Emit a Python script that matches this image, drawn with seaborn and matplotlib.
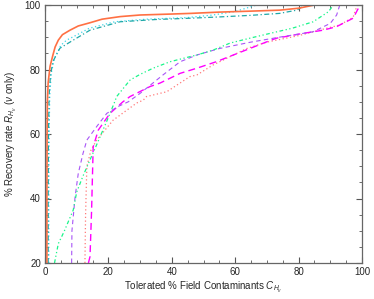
import numpy as np
import pandas as pd
import matplotlib
matplotlib.use('Agg')
import matplotlib.pyplot as plt
from matplotlib.ticker import MultipleLocator
import seaborn as sns

# curves: tolerated contaminants (x) vs recovery rate (y)
orange_x = [0.6, 0.6, 0.65, 0.75, 1.0, 1.6, 2.5, 3.2, 4.2, 5.5, 7.9, 10.5, 14.2, 18, 23.7, 30, 40, 46, 55, 65, 74, 80, 85]
orange_y = [20, 40, 60, 70, 76, 81, 84.5, 87, 89.1, 90.8, 92.2, 93.5, 94.5, 95.6, 96.4, 96.9, 97.2, 97.4, 97.8, 98.1, 98.4, 99, 100]

cyan_x = [1.2, 1.2, 1.3, 1.5, 2.0, 3, 5, 6.8, 9, 14, 22, 32, 45, 53, 60, 66.8]
cyan_y = [20, 40, 60, 72, 79, 83.5, 87.5, 89.1, 90.2, 92.8, 94.8, 95.6, 96.1, 96.9, 98, 100]

teal_x = [1.0, 1.0, 1.1, 1.3, 1.7, 2.5, 4.7, 8.9, 14.2, 23.7, 35, 45.7, 55, 65, 74, 79.4, 82]
teal_y = [20, 40, 60, 72, 78, 82.5, 86.6, 89.1, 92.2, 94.8, 95.5, 95.9, 96.3, 96.8, 97.4, 98.4, 100]

green_x = [3.0, 4.2, 6, 8.9, 10, 12, 14.2, 16, 19.5, 22, 22.6, 26.8, 30, 34.1, 39.4, 45, 47.9, 53, 58.4, 65, 71, 78, 84.6, 89.4, 91]
green_y = [20, 26, 29.7, 36.4, 42, 47, 52, 56, 64, 70, 71.6, 76.7, 78.5, 80.4, 82.4, 83.8, 84.5, 86, 88.2, 89.8, 91.2, 92.8, 94.8, 97.9, 100]

purple_x = [8.4, 8.5, 9.5, 10.5, 12, 13.2, 16.3, 19.5, 23, 26.3, 30, 37.2, 42.6, 47.9, 55, 65, 75, 84.6, 90, 92, 93]
purple_y = [20, 30, 40.6, 47.8, 54, 58.1, 62.3, 66.4, 68.5, 70, 72.6, 78.3, 82.4, 84.5, 86.5, 88.5, 90.2, 91.7, 94.3, 96.9, 100]

magenta_x = [13.7, 14.2, 14.7, 15.2, 16.8, 20.5, 24.6, 26.8, 33.1, 36.3, 42.6, 47.9, 54, 62, 70, 73, 81.4, 87.8, 92, 97.2, 99.4]
magenta_y = [20, 22, 36.4, 56, 61.2, 66.4, 70, 71.6, 74.7, 75.8, 78.8, 80.4, 82.4, 85.5, 88.6, 89.7, 91.2, 92.2, 93.3, 95.9, 100]

salmon_x = [12.6, 12.8, 13.2, 14.5, 16.3, 21.5, 28.9, 31, 32, 38.4, 45.7, 47.9, 53, 63.6, 70, 80, 88.9, 93, 97.2, 98.5]
salmon_y = [20, 35, 49.9, 55, 58.1, 64.3, 69.6, 70.5, 71.6, 73.1, 77.8, 78.3, 81.4, 86.5, 88.5, 90.5, 92.8, 93.8, 96.2, 100]

sns.set_style('ticks')
plt.rcParams['font.family'] = ['Liberation Sans', 'DejaVu Sans']
plt.rcParams['mathtext.fontset'] = 'custom'
plt.rcParams['mathtext.it'] = 'Liberation Sans:italic'
plt.rcParams['mathtext.rm'] = 'Liberation Sans'

fig = plt.figure(figsize=(3.74, 2.99), dpi=100)
ax = fig.add_axes([45 / 374, 1 - 263 / 299, 317 / 374, 258 / 299])

curves = [
    (salmon_x, salmon_y, '#ff7a7a', (0, (1, 2)), 0.9),
    (magenta_x, magenta_y, '#ff00ff', (0, (5, 3)), 1.0),
    (purple_x, purple_y, '#a855f7', (0, (4, 3)), 0.8),
    (green_x, green_y, '#19f58a', (0, (3, 2, 1, 2, 1, 2)), 0.9),
    (cyan_x, cyan_y, '#3ad6e8', (0, (1, 2)), 0.9),
    (teal_x, teal_y, '#1fa8a8', (0, (4, 2, 1, 2)), 0.9),
    (orange_x, orange_y, '#ff7043', '-', 1.2),
]
for xs, ys, col, ls, lw in curves:
    df = pd.DataFrame({'x': xs, 'y': ys})
    sns.lineplot(data=df, x='x', y='y', sort=False, estimator=None, color=col,
                 linestyle=ls, linewidth=lw, ax=ax)

ax.set_xlim(0, 100)
ax.set_ylim(20, 100)
ax.xaxis.set_major_locator(MultipleLocator(20))
ax.xaxis.set_minor_locator(MultipleLocator(5))
ax.yaxis.set_major_locator(MultipleLocator(20))
ax.yaxis.set_minor_locator(MultipleLocator(5))
ax.tick_params(which='both', direction='in', top=True, right=True, color='#555555', labelsize=7, pad=3)
ax.tick_params(which='major', length=4, width=0.8)
ax.tick_params(which='minor', length=2, width=0.6)
for s in ax.spines.values():
    s.set_color('#666666')
    s.set_linewidth(0.9)

ax.set_xlabel(r'Tolerated % Field Contaminants $C_{H_\nu}$', fontsize=7, labelpad=2)
ax.set_ylabel(r'% Recovery rate $R_{H_\nu}$ ($\nu$ only)', fontsize=7, labelpad=4)

fig.savefig('out.png', dpi=100)
